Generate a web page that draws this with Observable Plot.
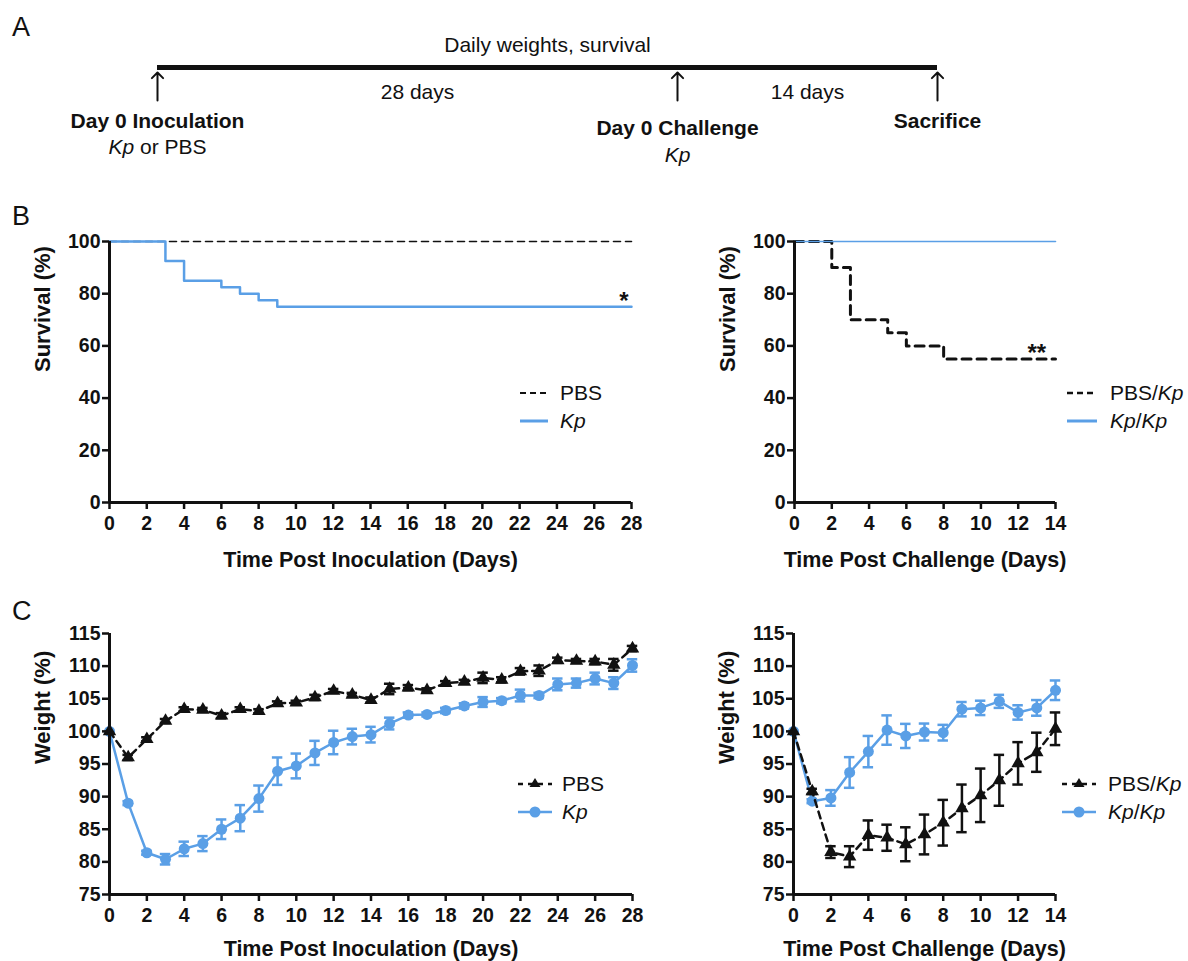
<!DOCTYPE html>
<html>
<head>
<meta charset="utf-8">
<script src="https://cdn.jsdelivr.net/npm/d3@7"></script>
<script src="https://cdn.jsdelivr.net/npm/@observablehq/plot@0.6"></script>
<style>
  body { margin: 0; background: #fff; }
  #fig { position: relative; width: 1188px; height: 961px; overflow: hidden; background: #fff;
         font-family: "Liberation Sans", Arial, Helvetica, sans-serif; color: #111; }
  .letter { position: absolute; font-size: 27px; line-height: 1; }
  .lrow { position: absolute; display: flex; align-items: center; height: 28px; font-size: 21px; white-space: nowrap; }
  .lrow svg { display: block; }
</style>
</head>
<body>
<div id="fig"></div>
<script>
// ---------------- DATA ----------------
// Panel A: experimental timeline (days from inoculation)
const timelineHeader = "Daily weights, survival";
const timelineEvents = [
  {day: 0,  title: "Day 0 Inoculation", sub: "Kp or PBS"},
  {day: 28, title: "Day 0 Challenge",   sub: "Kp"},
  {day: 42, title: "Sacrifice",         sub: ""}
];
const timelineSpans = [
  {from: 0,  to: 28, label: "28 days"},
  {from: 28, to: 42, label: "14 days"}
];

// Panel B: survival (Kaplan-Meier steps)
const survInocDaysPBS = [0, 28];
const survInocPBS     = [100, 100];
const survInocDaysKp  = [0, 3, 4, 6, 7, 8, 9, 28];
const survInocKp      = [100, 92.5, 85, 82.5, 80, 77.5, 75, 75];
const survChalDaysPBSKp = [0, 2, 3, 5, 6, 8, 14];
const survChalPBSKp     = [100, 90, 70, 65, 60, 55, 55];
const survChalDaysKpKp  = [0, 14];
const survChalKpKp      = [100, 100];
const survInocSig = [{day: 27.6, value: 77, label: "*"}];
const survChalSig = [{day: 13.0, value: 57, label: "**"}];

// Panel C: weight (% of day 0), mean and error
const inocDays = [0,1,2,3,4,5,6,7,8,9,10,11,12,13,14,15,16,17,18,19,20,21,22,23,24,25,26,27,28];
const weightInocPBS    = [100,96.0,98.8,101.6,103.4,103.3,102.4,103.4,103.1,104.3,104.4,105.2,106.2,105.6,104.8,106.5,106.7,106.3,107.4,107.6,108.2,107.9,109.2,109.3,110.9,110.8,110.7,110.2,112.7];
const weightInocPBSErr = [0,0.4,0.3,0.3,0.3,0.3,0.4,0.3,0.3,0.3,0.3,0.4,0.3,0.3,0.4,0.8,0.4,0.3,0.3,0.3,0.8,0.4,0.5,0.8,0.4,0.3,0.4,0.9,0.4];
const weightInocKp     = [100,89.0,81.4,80.4,82.0,82.8,85.0,86.7,89.7,93.9,94.7,96.7,98.3,99.2,99.5,101.2,102.5,102.6,103.2,103.9,104.5,104.7,105.5,105.5,107.2,107.4,108.1,107.4,110.1];
const weightInocKpErr  = [0,0.3,0.3,0.8,1.1,1.15,1.5,2.0,2.0,2.1,1.9,1.85,1.8,1.2,1.2,0.9,0.4,0.3,0.4,0.4,0.75,0.4,0.9,0.4,0.9,0.7,0.9,0.9,0.95];

const chalDays = [0,1,2,3,4,5,6,7,8,9,10,11,12,13,14];
const weightChalPBSKp    = [100,90.8,81.5,80.8,84.1,83.7,82.7,84.2,86.0,88.2,90.2,92.5,95.1,96.8,100.4];
const weightChalPBSKpErr = [0,0.4,0.9,1.6,2.25,2.0,2.6,3.05,3.5,3.65,4.1,3.9,3.25,3.0,2.5];
const weightChalKpKp     = [100,89.3,89.8,93.7,96.9,100.2,99.3,99.9,99.8,103.4,103.6,104.6,102.9,103.6,106.3];
const weightChalKpKpErr  = [0,0.3,1.2,2.35,2.4,2.25,1.85,1.3,1.2,1.1,1.1,1.0,1.1,1.2,1.5];

// Axis ticks
const inocTicks = [0,2,4,6,8,10,12,14,16,18,20,22,24,26,28];
const chalTicks = [0,2,4,6,8,10,12,14];
const survTicks = [0,20,40,60,80,100];
const weightTicks = [75,80,85,90,95,100,105,110,115];

// Labels
const xTitleInoc = "Time Post Inoculation (Days)";
const xTitleChal = "Time Post Challenge (Days)";
const yTitleSurv = "Survival (%)";
const yTitleWeight = "Weight (%)";

// ---------------- STYLE ----------------
const FONT = '"Liberation Sans", Arial, Helvetica, sans-serif';
const BLUE = "#5a9fe6";
const INK = "#111";

const rows = (xs, ys, es) => xs.map((x, i) => ({x, y: ys[i], e: es ? es[i] : 0}));

function frameMarks(o) {
  return [
    Plot.ruleX([o.xDomain[0]], {stroke: INK, strokeWidth: 3}),
    Plot.ruleY([o.yDomain[0]], {stroke: INK, strokeWidth: 3}),
    Plot.axisX({ticks: o.xTicks, tickSize: 7, tickPadding: 7, strokeWidth: 2.5, stroke: INK, fill: INK,
      fontSize: 19.5, fontWeight: "bold", label: null, tickFormat: d => String(d)}),
    Plot.axisY({ticks: o.yTicks, tickSize: 7, tickPadding: 2, strokeWidth: 2.5, stroke: INK, fill: INK,
      fontSize: 19.5, fontWeight: "bold", label: null, tickFormat: d => String(d)}),
    Plot.text([o.xTitle], {frameAnchor: "bottom", dy: o.xTitleDy, lineAnchor: "middle", fontSize: 21.5, fontWeight: "bold", fill: INK}),
    Plot.text([o.yTitle], {frameAnchor: "left", dx: o.yTitleDx, rotate: -90, fontSize: 22, fontWeight: "bold", fill: INK})
  ];
}

function makeChart(o) {
  return Plot.plot({
    width: o.width, height: o.height,
    marginLeft: o.ml, marginRight: o.mr, marginTop: o.mt, marginBottom: o.mb,
    style: {fontFamily: FONT, background: "transparent", overflow: "visible"},
    x: {domain: o.xDomain},
    y: {domain: o.yDomain},
    marks: [...o.marks, ...frameMarks(o)]
  });
}

function errorMarks(data, color, cap) {
  const d = data.filter(r => r.e > 0);
  return [
    Plot.ruleX(d, {x: "x", y1: r => r.y - r.e, y2: r => r.y + r.e, stroke: color, strokeWidth: 2.5}),
    Plot.ruleY(d, {y: r => r.y + r.e, x1: r => r.x - cap, x2: r => r.x + cap, stroke: color, strokeWidth: 2.5}),
    Plot.ruleY(d, {y: r => r.y - r.e, x1: r => r.x - cap, x2: r => r.x + cap, stroke: color, strokeWidth: 2.5})
  ];
}

function italicizeKp(svg) {
  svg.querySelectorAll("text").forEach(t => {
    if (t.childElementCount === 0 && t.textContent.includes("Kp")) {
      const parts = t.textContent.split(/(Kp)/);
      t.textContent = "";
      parts.forEach(p => {
        if (!p) return;
        const s = document.createElementNS("http://www.w3.org/2000/svg", "tspan");
        s.textContent = p;
        if (p === "Kp") s.setAttribute("font-style", "italic");
        t.appendChild(s);
      });
    }
  });
}

const fig = document.getElementById("fig");
function place(node, left, top) {
  node.style.position = "absolute";
  node.style.left = left + "px";
  node.style.top = top + "px";
  fig.appendChild(node);
  return node;
}

// ---------------- PANEL A ----------------
// The timeline sits at the vertical centre (y = 0) of a thin frame.
const panelA = Plot.plot({
  width: 1188, height: 180,
  marginLeft: 157, marginRight: 251, marginTop: 60, marginBottom: 106,
  style: {fontFamily: FONT, background: "transparent", overflow: "visible"},
  x: {domain: [0, 42], axis: null},
  y: {domain: [-1, 1], axis: null},
  marks: [
    Plot.ruleY(timelineSpans, {x1: "from", x2: "to", y: () => 0, stroke: INK, strokeWidth: 5}),
    Plot.vector(timelineEvents, {x: "day", y: () => 0, length: 28, rotate: 0, anchor: "end", dy: 5, stroke: INK, strokeWidth: 2}),
    Plot.text([timelineHeader], {frameAnchor: "middle", dy: -22, fontSize: 21, fill: INK}),
    Plot.text(timelineSpans, {x: d => (d.from + d.to) / 2, y: () => 0, text: "label", dy: 25, fontSize: 21, fill: INK}),
    Plot.text(timelineEvents.filter(d => !d.title.includes("Challenge")), {x: "day", y: () => 0, text: "title", dy: 54, fontSize: 21, fontWeight: "bold", fill: INK}),
    Plot.text(timelineEvents.filter(d => d.title.includes("Challenge")), {x: "day", y: () => 0, text: "title", dy: 61, fontSize: 21, fontWeight: "bold", fill: INK}),
    Plot.text(timelineEvents.filter(d => !d.title.includes("Challenge")), {x: "day", y: () => 0, text: "sub", dy: 80, fontSize: 21, fill: INK}),
    Plot.text(timelineEvents.filter(d => d.title.includes("Challenge")), {x: "day", y: () => 0, text: "sub", dy: 88, fontSize: 21, fill: INK})
  ]
});
italicizeKp(panelA);
place(panelA, 0, 0);

// ---------------- PANEL B ----------------
const bLeft = makeChart({
  width: 660, height: 380, ml: 109, mr: 29, mt: 41, mb: 78,
  xDomain: [0, 28], yDomain: [0, 100], xTicks: inocTicks, yTicks: survTicks,
  xTitle: xTitleInoc, yTitle: yTitleSurv, xTitleDy: 58, yTitleDx: -67,
  marks: [
    Plot.line(rows(survInocDaysPBS, survInocPBS), {x: "x", y: "y", curve: "step-after", stroke: INK, strokeWidth: 1.6, strokeDasharray: "7,5"}),
    Plot.line(rows(survInocDaysKp, survInocKp), {x: "x", y: "y", curve: "step-after", stroke: BLUE, strokeWidth: 2.5}),
    Plot.text(survInocSig, {x: "day", y: "value", text: "label", fontSize: 24, fontWeight: "bold", fill: INK})
  ]
});
place(bLeft, 0, 200);

const bRight = makeChart({
  width: 528, height: 380, ml: 134, mr: 133, mt: 41, mb: 78,
  xDomain: [0, 14], yDomain: [0, 100], xTicks: chalTicks, yTicks: survTicks,
  xTitle: xTitleChal, yTitle: yTitleSurv, xTitleDy: 58, yTitleDx: -67,
  marks: [
    Plot.line(rows(survChalDaysPBSKp, survChalPBSKp), {x: "x", y: "y", curve: "step-after", stroke: INK, strokeWidth: 3, strokeDasharray: "9,6"}),
    Plot.line(rows(survChalDaysKpKp, survChalKpKp), {x: "x", y: "y", curve: "step-after", stroke: BLUE, strokeWidth: 1.6}),
    Plot.text(survChalSig, {x: "day", y: "value", text: "label", fontSize: 24, fontWeight: "bold", fill: INK})
  ]
});
place(bRight, 660, 200);

// ---------------- PANEL C ----------------
const CAP = 0.28;
const inocPBS = rows(inocDays, weightInocPBS, weightInocPBSErr);
const inocKp = rows(inocDays, weightInocKp, weightInocKpErr);
const cLeft = makeChart({
  width: 660, height: 371, ml: 109, mr: 28, mt: 43, mb: 67,
  xDomain: [0, 28], yDomain: [75, 115], xTicks: inocTicks, yTicks: weightTicks,
  xTitle: xTitleInoc, yTitle: yTitleWeight, xTitleDy: 55, yTitleDx: -67,
  marks: [
    Plot.line(inocKp, {x: "x", y: "y", stroke: BLUE, strokeWidth: 2.5}),
    ...errorMarks(inocKp, BLUE, CAP),
    Plot.dot(inocKp, {x: "x", y: "y", r: 5.5, fill: BLUE}),
    Plot.line(inocPBS, {x: "x", y: "y", stroke: INK, strokeWidth: 2.5, strokeDasharray: "7,5"}),
    ...errorMarks(inocPBS, INK, CAP),
    Plot.dot(inocPBS, {x: "x", y: "y", r: 5, symbol: "triangle", fill: INK})
  ]
});
place(cLeft, 0, 590);

const chalPBSKp = rows(chalDays, weightChalPBSKp, weightChalPBSKpErr);
const chalKpKp = rows(chalDays, weightChalKpKp, weightChalKpKpErr);
const cRight = makeChart({
  width: 528, height: 371, ml: 133, mr: 133, mt: 43, mb: 67,
  xDomain: [0, 14], yDomain: [75, 115], xTicks: chalTicks, yTicks: weightTicks,
  xTitle: xTitleChal, yTitle: yTitleWeight, xTitleDy: 55, yTitleDx: -67,
  marks: [
    Plot.line(chalKpKp, {x: "x", y: "y", stroke: BLUE, strokeWidth: 2.5}),
    ...errorMarks(chalKpKp, BLUE, CAP),
    Plot.dot(chalKpKp, {x: "x", y: "y", r: 5.5, fill: BLUE}),
    Plot.line(chalPBSKp, {x: "x", y: "y", stroke: INK, strokeWidth: 2.5, strokeDasharray: "7,5"}),
    ...errorMarks(chalPBSKp, INK, CAP),
    Plot.dot(chalPBSKp, {x: "x", y: "y", r: 5, symbol: "triangle", fill: INK})
  ]
});
place(cRight, 660, 590);

// ---------------- PANEL LETTERS ----------------
[["A", 12, 14], ["B", 12, 203], ["C", 12, 598]].forEach(([t, x, y]) => {
  const d = document.createElement("div");
  d.className = "letter";
  d.textContent = t;
  place(d, x, y);
});

// ---------------- LEGENDS ----------------
function swatch(w, style) {
  const mid = w / 2;
  let s = `<svg width="${w}" height="28" viewBox="0 0 ${w} 28">`;
  s += `<line x1="0" y1="14" x2="${w}" y2="14" stroke="${style.stroke}" stroke-width="${style.width}"` +
       (style.dash ? ` stroke-dasharray="${style.dash}"` : "") + `/>`;
  if (style.symbol === "circle") s += `<circle cx="${mid}" cy="14" r="5.5" fill="${style.stroke}"/>`;
  if (style.symbol === "triangle") s += `<path d="M${mid},8 L${mid + 5.5},17 L${mid - 5.5},17 Z" fill="${style.stroke}"/>`;
  return s + `</svg>`;
}
function legendRow(left, cy, w, gap, style, label) {
  const d = document.createElement("div");
  d.className = "lrow";
  d.innerHTML = swatch(w, style) + `<span style="margin-left:${gap}px">${label.replace(/Kp/g, "<i>Kp</i>")}</span>`;
  place(d, left, cy - 14);
}
const legendBLeft = ["PBS", "Kp"];
const legendBRight = ["PBS/Kp", "Kp/Kp"];
legendRow(520, 393, 28, 12, {stroke: INK, width: 2, dash: "6,4"}, legendBLeft[0]);
legendRow(520, 421, 28, 12, {stroke: BLUE, width: 3}, legendBLeft[1]);
legendRow(1067, 393, 30, 13, {stroke: INK, width: 2.5, dash: "6,4"}, legendBRight[0]);
legendRow(1067, 421, 30, 13, {stroke: BLUE, width: 3}, legendBRight[1]);
legendRow(518, 784, 34, 10, {stroke: INK, width: 2.5, dash: "5,5", symbol: "triangle"}, legendBLeft[0]);
legendRow(518, 812, 34, 10, {stroke: BLUE, width: 2.5, symbol: "circle"}, legendBLeft[1]);
legendRow(1062, 784, 34, 12, {stroke: INK, width: 2.5, dash: "5,5", symbol: "triangle"}, legendBRight[0]);
legendRow(1062, 812, 34, 12, {stroke: BLUE, width: 2.5, symbol: "circle"}, legendBRight[1]);
</script>
</body>
</html>
